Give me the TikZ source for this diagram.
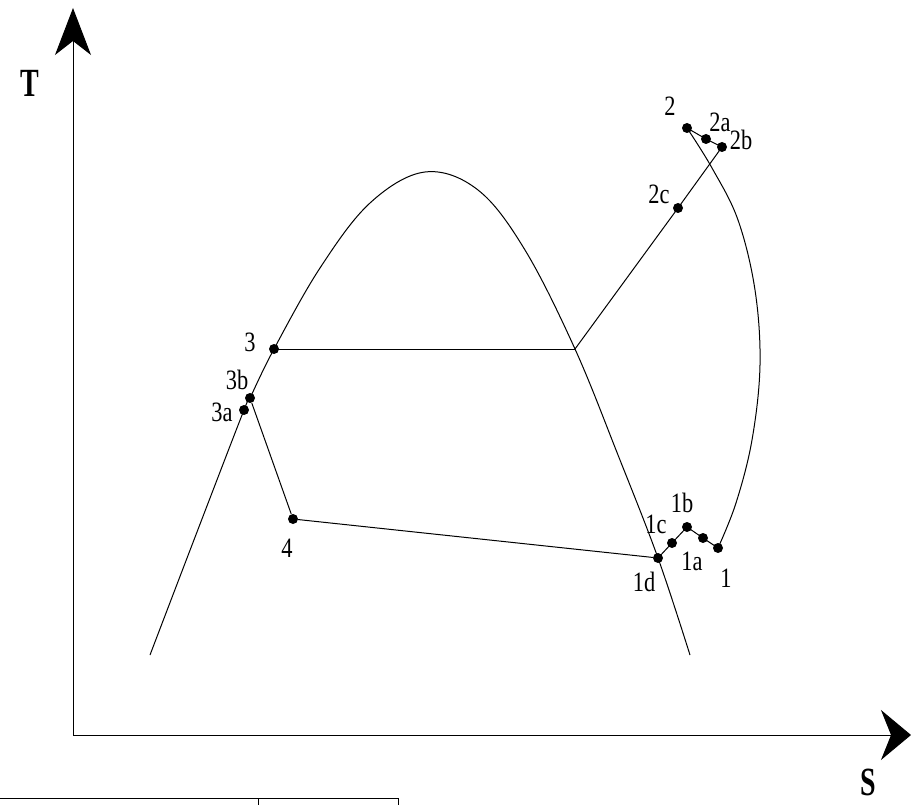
\documentclass[tikz,border=0pt]{standalone}
\usepackage{fontspec}
\setmainfont{Liberation Serif}
\usetikzlibrary{arrows.meta, positioning}

\begin{document}
\begin{tikzpicture}[
        x = 1pt, y = -1pt,
        dot/.style = {circle, fill = black, inner sep = 0pt, minimum size = 10pt},
        lbl/.style = {inner sep = 0pt, font = \fontsize{28}{30}\selectfont, xscale = 0.8},
        axlbl/.style = {inner sep = 0pt, font = \bfseries\fontsize{40}{42}\selectfont, xscale = 0.7},
        line/.style = {line width = 1pt}
    ]
        \useasboundingbox (0,0) rectangle (911,805);

        % axes
        \coordinate (o) at (73,735);
        \coordinate (ytip) at (73,8);
        \coordinate (xtip) at (911,735);
        \draw[line, -{Stealth[length = 47pt, width = 36pt, inset = 14pt]}] (o) -- (ytip);
        \draw[line, -{Stealth[length = 30pt, width = 50pt, inset = 10pt]}] (o) -- (xtip);
        \node[axlbl] (t) at (30,83) {T};
        \node[axlbl] (s) at (868,782) {S};

        % state points
        \node[dot] (p1)  at (718,548) {};
        \node[dot] (p1a) at (703,538) {};
        \node[dot] (p1b) at (687,527) {};
        \node[dot] (p1c) at (672,543) {};
        \node[dot] (p1d) at (658,558) {};
        \node[dot] (p2)  at (687,128) {};
        \node[dot] (p2a) at (706,139) {};
        \node[dot] (p2b) at (722,147) {};
        \node[dot] (p2c) at (678,208) {};
        \node[dot] (p3)  at (274,349) {};
        \node[dot] (p3a) at (244,410) {};
        \node[dot] (p3b) at (250,398) {};
        \node[dot] (p4)  at (293,519) {};
        \coordinate (vap) at (575,349);

        % labels
        \node[lbl] (l1)  at (726,578) {1};
        \node[lbl] (l1a) at (692,561) {1a};
        \node[lbl] (l1b) at (682,503) {1b};
        \node[lbl] (l1c) at (656,524) {1c};
        \node[lbl] (l1d) at (644,582) {1d};
        \node[lbl] (l2)  at (670,106) {2};
        \node[lbl] (l2a) at (720,122) {2a};
        \node[lbl] (l2b) at (741,140) {2b};
        \node[lbl] (l2c) at (659,194) {2c};
        \node[lbl] (l3)  at (250,342) {3};
        \node[lbl] (l3b) at (237,380) {3b};
        \node[lbl] (l3a) at (222,412) {3a};
        \node[lbl] (l4)  at (287,548) {4};

        % saturation dome
        \draw[line] plot[smooth, tension = 0.6] coordinates {
            (150,655) (197,532) (p3a.center) (p3b.center) (p3.center) (320,268)
            (370,203) (425,172) (478,190) (525,250) (vap) (618,455)
            (p1d.center) (690,655)};

        % cycle
        \draw[line] (p3.center) -- (vap);
        \draw[line] (vap) -- (p2c.center) -- (p2b.center);
        \draw[line] (p2.center) -- (p2a.center) -- (p2b.center);
        \draw[line] plot[smooth, tension = 0.6] coordinates {
            (p2.center) (712,168) (738,220) (755,290) (760,365) (752,440)
            (736,503) (p1.center)};
        \draw[line] (p1.center) -- (p1a.center) -- (p1b.center) -- (p1c.center) -- (p1d.center);
        \draw[line] (p1d) -- (p4);
        \draw[line] (p4) -- (p3b);

        % table edge
        \draw[line] (0,798) -- (398,798);
        \draw[line] (258,798) -- (258,805);
        \draw[line] (398,798) -- (398,805);
\end{tikzpicture}
\end{document}
